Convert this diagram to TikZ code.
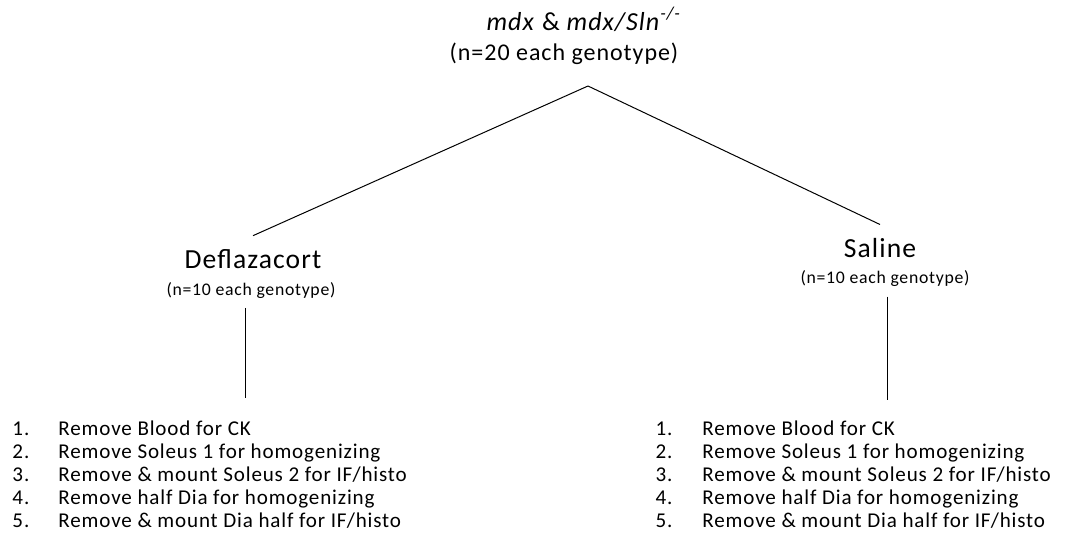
\documentclass[tikz,border=0pt]{standalone}
\usepackage{fontspec}
\setmainfont[LetterSpace=4]{Carlito}
\usepackage{array}
\tikzset{every picture/.style={line width=0.75pt}}

\begin{document}
\begin{tikzpicture}[x=0.75pt,y=0.75pt,yscale=-1,xscale=1,
  branch/.style={anchor=base, inner sep=0pt, outer sep=10pt, font=\fontsize{20.7}{24}\selectfont},
  count/.style={anchor=base, inner sep=0pt, font=\fontsize{13.3}{15}\selectfont},
  steps/.style={anchor=base west, inner sep=0pt, font=\fontsize{15.8}{17.25}\selectfont}]
\useasboundingbox (0,0) rectangle (1065,554);

% top of the tree
\node (title) [anchor=base, inner sep=0pt, font=\fontsize{19.5}{22}\selectfont] at (584,30) {\textit{mdx} \& \textit{mdx/Sln}\textsuperscript{\textit{-/-}}};
\node (total) [anchor=base, inner sep=0pt, font=\fontsize{18}{22}\selectfont] at (564,60) {(n=20 each genotype)};
\coordinate (apex) at (588,86);

% two treatment groups
\node (defl) [branch] at (253,268) {Deflazacort};
\node (dcount) [count] at (251,295) {(n=10 each genotype)};
\node (sal) [branch] at (880,257) {Saline};
\node (scount) [count] at (885,283) {(n=10 each genotype)};

\draw (apex) -- (defl.north);
\draw (apex) -- (sal.north);

\coordinate (dstem) at (245,398);
\coordinate (sstem) at (887,400);
\draw [shorten <=7pt] (dcount.south -| dstem) -- (dstem);
\draw [shorten <=7.5pt] (scount.south -| sstem) -- (sstem);

% steps under each group
\node (dlist) [steps] at (12,435) {\begin{tabular}[t]{@{}p{34.5pt}@{}l@{}}
1. & Remove Blood for CK\\
2. & Remove Soleus 1 for homogenizing\\
3. & Remove \& mount Soleus 2 for IF/histo\\
4. & Remove half Dia for homogenizing\\
5. & Remove \& mount Dia half for IF/histo
\end{tabular}};
\node (slist) [steps] at (655,435) {\begin{tabular}[t]{@{}p{35.25pt}@{}l@{}}
1. & Remove Blood for CK\\
2. & Remove Soleus 1 for homogenizing\\
3. & Remove \& mount Soleus 2 for IF/histo\\
4. & Remove half Dia for homogenizing\\
5. & Remove \& mount Dia half for IF/histo
\end{tabular}};

\end{tikzpicture}
\end{document}
